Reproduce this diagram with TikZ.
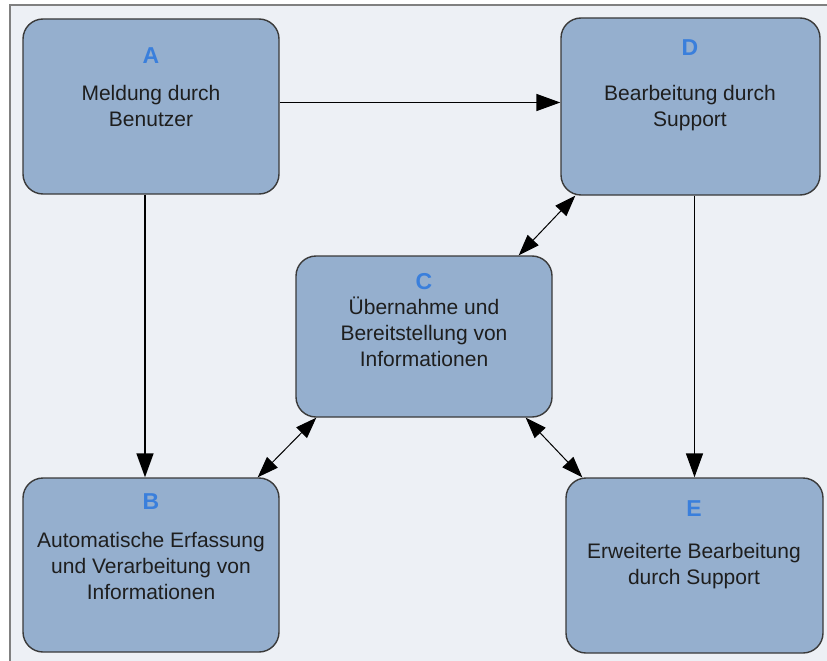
\documentclass[tikz,border=0pt]{standalone}
\usepackage{fontspec}
\setmainfont{Liberation Sans}
\usetikzlibrary{arrows.meta}
\definecolor{bgc}{HTML}{EDF0F5}
\definecolor{boxc}{HTML}{95AFCE}
\definecolor{edgec}{HTML}{3A3A3A}
\definecolor{framec}{HTML}{808080}
\definecolor{letc}{HTML}{3A7FDC}
\definecolor{txtc}{HTML}{1E1E1E}
\tikzset{
  box/.style={draw=edgec, line width=1.4pt, fill=boxc, rectangle, rounded corners=20pt, inner sep=0pt},
  letter/.style={anchor=north, inner sep=0pt, text=letc, font=\fontsize{23}{25}\selectfont\bfseries},
  txt/.style={anchor=north, inner sep=0pt, align=center, text=txtc, font=\fontsize{21}{26}\selectfont},
  arr/.style={draw=black, line width=1.6pt, -{Triangle[length=24pt,width=17pt]}},
  darr/.style={draw=black, line width=1pt, {Triangle[length=21pt,width=15pt]}-{Triangle[length=21pt,width=15pt]}}
}
\begin{document}
\begin{tikzpicture}[x=1pt,y=-1pt]
\useasboundingbox (0,0) rectangle (827,661);
\fill[white] (0,0) rectangle (827,661);
\fill[bgc] (10,5) rectangle (827,661);
\draw[framec, line width=2.5pt] (10,661) -- (10,5) -- (827,5);

\node[box, minimum width=256pt, minimum height=175pt] (A) at (151,106.5) {};
\node[box, minimum width=259pt, minimum height=177pt] (D) at (690.5,106.5) {};
\node[box, minimum width=256pt, minimum height=161pt] (C) at (424,336.5) {};
\node[box, minimum width=256pt, minimum height=174pt] (B) at (151,565) {};
\node[box, minimum width=257pt, minimum height=175pt] (E) at (694.5,565.5) {};

\node[letter] (lA) at (151,47) {A};
\node[txt] (tA) at (151,85) {Meldung durch\\Benutzer};
\node[letter] (lD) at (690,39) {D};
\node[txt] (tD) at (690,85) {Bearbeitung durch\\Support};
\node[letter] (lC) at (424,273) {C};
\node[txt] (tC) at (424,297) {Übernahme und\\Bereitstellung von\\Informationen};
\node[letter] (lB) at (151,493) {B};
\node[txt] (tB) at (151,532) {Automatische Erfassung\\und Verarbeitung von\\Informationen};
\node[letter] (lE) at (694,500) {E};
\node[txt] (tE) at (694,543) {Erweiterte Bearbeitung\\durch Support};

\draw[arr] ([yshift=4pt]A.east) -- ([yshift=4pt]D.west);
\draw[arr] ([xshift=-6pt]A.south) -- ([xshift=-6pt]B.north);
\draw[arr] (D.south -| E.north) -- (E.north);
\draw[darr] ([xshift=-34pt]C.north east) -- ([xshift=15pt]D.south west);
\draw[darr] ([xshift=21pt]C.south west) -- ([xshift=-22pt]B.north east);
\draw[darr] ([xshift=-27pt]C.south east) -- ([xshift=17pt]E.north west);
\end{tikzpicture}
\end{document}
